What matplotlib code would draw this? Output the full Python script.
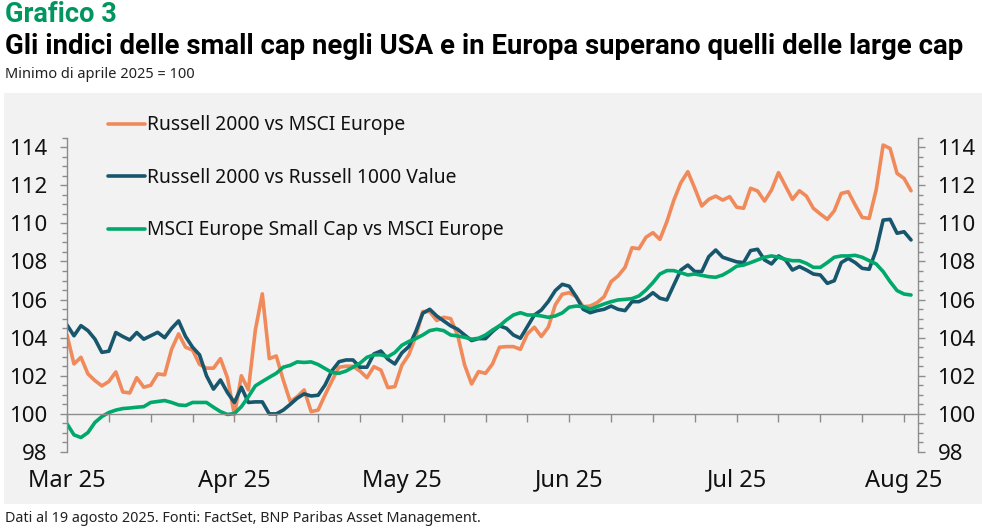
import matplotlib
matplotlib.use("Agg")
import matplotlib.pyplot as plt
from matplotlib.patches import Rectangle
from matplotlib.ticker import MultipleLocator, FixedLocator

plt.rcParams['font.family'] = ['Noto Sans', 'DejaVu Sans']

# ---------------- data ----------------
month_labels = ["Mar 25", "Apr 25", "May 25", "Jun 25", "Jul 25", "Aug 25"]
label_every = 24      # observations between month labels
tick_every = 6        # observations between minor ticks

russell_vs_msci = [
    104.14, 102.62, 102.97, 102.10, 101.75, 101.47, 101.70, 102.20, 101.15, 101.10,
    101.90, 101.40, 101.50, 102.10, 102.05, 103.40, 104.20, 103.50, 103.35, 102.60,
    102.40, 102.40, 102.90, 101.90, 99.95, 102.00, 101.26, 104.40, 106.30, 102.90,
    103.04, 101.78, 100.65, 100.90, 101.26, 100.12, 100.20, 101.00, 101.75, 102.45,
    102.50, 102.50, 102.25, 101.90, 102.48, 102.30, 101.38, 101.43, 102.55, 103.10,
    104.06, 105.37, 105.37, 104.90, 105.07, 105.00, 104.14, 102.57, 101.57, 102.22,
    102.13, 102.62, 103.50, 103.53, 103.53, 103.39, 104.20, 104.55, 104.06, 104.55,
    105.72, 106.28, 106.36, 106.15, 105.63, 105.66, 105.84, 106.15, 106.94, 107.24,
    107.69, 108.72, 108.67, 109.27, 109.51, 109.16, 110.09, 111.22, 112.13, 112.71,
    111.84, 110.91, 111.26, 111.43, 111.22, 111.40, 110.85, 110.79, 111.84, 111.70,
    111.17, 111.75, 112.66, 111.96, 111.26, 111.71, 111.43, 110.79, 110.49, 110.21,
    110.66, 111.57, 111.66, 110.96, 110.31, 110.26, 111.75, 114.11, 113.93, 112.62,
    112.36, 111.71,
]

russell_vs_value = [
    104.67, 104.10, 104.63, 104.37, 103.93, 103.23, 103.29, 104.27, 104.06, 103.88,
    104.27, 103.92, 104.10, 104.28, 104.00, 104.49, 104.88, 104.06, 103.50, 103.10,
    102.00, 101.30, 101.78, 101.12, 100.60, 101.40, 100.60, 100.63, 100.63, 100.00,
    100.00, 100.20, 100.50, 100.82, 101.05, 100.94, 100.98, 101.52, 102.27, 102.74,
    102.83, 102.83, 102.45, 102.45, 103.15, 103.30, 102.87, 102.62, 103.20, 103.53,
    104.32, 105.28, 105.49, 105.14, 104.88, 104.62, 104.44, 104.14, 103.85, 103.95,
    103.95, 104.32, 104.62, 104.49, 104.14, 103.97, 104.58, 105.19, 105.45, 105.90,
    106.47, 106.80, 106.70, 106.15, 105.49, 105.31, 105.42, 105.49, 105.66, 105.49,
    105.42, 105.89, 105.89, 106.07, 106.36, 106.07, 105.98, 106.77, 107.55, 107.81,
    107.47, 107.47, 108.25, 108.60, 108.22, 108.10, 107.98, 107.94, 108.57, 108.64,
    108.08, 107.87, 108.29, 108.08, 107.55, 107.73, 107.55, 107.34, 107.29, 106.85,
    106.99, 107.94, 108.16, 107.94, 107.64, 107.59, 108.60, 110.17, 110.21, 109.48,
    109.56, 109.13,
]

europe_small_vs_msci = [
    99.48, 98.90, 98.76, 99.02, 99.55, 99.86, 100.07, 100.20, 100.28, 100.31,
    100.35, 100.38, 100.60, 100.65, 100.70, 100.60, 100.47, 100.44, 100.60, 100.60,
    100.60, 100.35, 100.12, 99.97, 100.02, 100.38, 100.90, 101.47, 101.70, 101.92,
    102.13, 102.45, 102.55, 102.73, 102.70, 102.73, 102.59, 102.38, 102.17, 102.13,
    102.25, 102.45, 102.66, 102.97, 103.10, 103.10, 103.00, 103.22, 103.60, 103.80,
    103.95, 104.14, 104.37, 104.44, 104.37, 104.14, 104.09, 104.02, 103.92, 103.97,
    104.14, 104.40, 104.62, 104.93, 105.19, 105.31, 105.19, 105.19, 105.14, 105.07,
    105.14, 105.30, 105.60, 105.66, 105.63, 105.49, 105.63, 105.77, 105.89, 105.98,
    106.01, 106.05, 106.19, 106.50, 106.89, 107.34, 107.52, 107.52, 107.41, 107.29,
    107.34, 107.27, 107.20, 107.17, 107.29, 107.50, 107.75, 107.81, 107.94, 108.08,
    108.22, 108.29, 108.22, 108.11, 108.04, 108.04, 107.90, 107.69, 107.69, 107.94,
    108.22, 108.29, 108.29, 108.32, 108.22, 108.04, 107.87, 107.47, 106.94, 106.47,
    106.29, 106.24,
]

series_names = ["Russell 2000 vs MSCI Europe",
                "Russell 2000 vs Russell 1000 Value",
                "MSCI Europe Small Cap vs MSCI Europe"]
series_colors = ["#F08A5B", "#17566C", "#00A86B"]

title_kicker = "Grafico 3"
title = "Gli indici delle small cap negli USA e in Europa superano quelli delle large cap"
subtitle = "Minimo di aprile 2025 = 100"
footer = "Dati al 19 agosto 2025. Fonti: FactSet, BNP Paribas Asset Management."

# ---------------- figure ----------------
W, H = 982, 530
fig = plt.figure(figsize=(W / 100, H / 100), dpi=100)
fig.patch.set_facecolor("white")

# grey chart panel
fig.patches.append(Rectangle((4 / W, 1 - 504 / H), 1 - 4 / W, (504 - 93) / H,
                             transform=fig.transFigure, facecolor="#F2F2F2",
                             edgecolor="none", zorder=-5))

ax = fig.add_axes([67 / W, 1 - 452 / H, (918 - 67) / W, (452 - 137.6) / H])
ax.set_zorder(2)
ax.set_facecolor("none")

n = len(russell_vs_msci)
x = list(range(n))
for vals, name, col in zip([russell_vs_msci, russell_vs_value, europe_small_vs_msci],
                           series_names, series_colors):
    ax.plot(x, vals, color=col, lw=2.6, label=name, solid_joinstyle="round",
            solid_capstyle="round")

ax.set_xlim(0, 122)
ax.set_ylim(98, 114.5)

spine_col = "#8C8C8C"
ax.spines["top"].set_visible(False)
for s in ["left", "right", "bottom"]:
    ax.spines[s].set_color(spine_col)
    ax.spines[s].set_linewidth(1.0)
ax.spines["bottom"].set_position(("data", 100))

ax.yaxis.set_major_locator(MultipleLocator(2))
ax.yaxis.set_minor_locator(MultipleLocator(0.5))
ax.tick_params(axis="y", which="both", left=True, right=True, labelleft=True,
               labelright=True, direction="out", color=spine_col, width=1.0)
ax.tick_params(axis="y", which="major", length=5, labelsize=16, pad=9,
               labelcolor="#111111")
ax.tick_params(axis="y", which="minor", length=3.5)

ax.set_xticks(list(range(0, n, label_every)))
ax.set_xticklabels(month_labels)
ax.xaxis.set_minor_locator(FixedLocator(list(range(0, n, tick_every))))
ax.tick_params(axis="x", which="both", direction="out", length=5.5,
               color=spine_col, width=1.0)
ax.tick_params(axis="x", which="major", labelsize=17, pad=34,
               labelcolor="#111111")
for lab in ax.get_xticklabels():
    lab.set_fontweight("medium")

leg = ax.legend(loc="upper left", bbox_to_anchor=((110 - 67) / (918 - 67) - 0.012, 1.095),
                frameon=False, fontsize=13.9, handlelength=1.95, handletextpad=0.12,
                labelspacing=1.68, borderaxespad=0)
for t in leg.get_texts():
    t.set_color("#111111")

# ---------------- texts ----------------
fig.text(5 / W, 1 - 15 / H, title_kicker, color="#00965E", fontsize=19.5,
         fontweight="bold", va="center", ha="left", family=["Roboto", "DejaVu Sans"])
t = fig.text(5 / W, 1 - 47 / H, title, color="#000000", fontsize=18,
             fontweight="bold", va="center", ha="left", family=["Roboto", "DejaVu Sans"])
fig.text(5 / W, 1 - 74 / H, subtitle, color="#222222", fontsize=10.5,
         va="center", ha="left")
fig.text(5 / W, 1 - 519 / H, footer, color="#222222", fontsize=10.35,
         va="center", ha="left")

# fit title width to the reference width
fig.canvas.draw()
r = fig.canvas.get_renderer()
w = t.get_window_extent(r).width
t.set_fontsize(18 * 955 / w)

fig.savefig("out.png", dpi=100, facecolor="white")
